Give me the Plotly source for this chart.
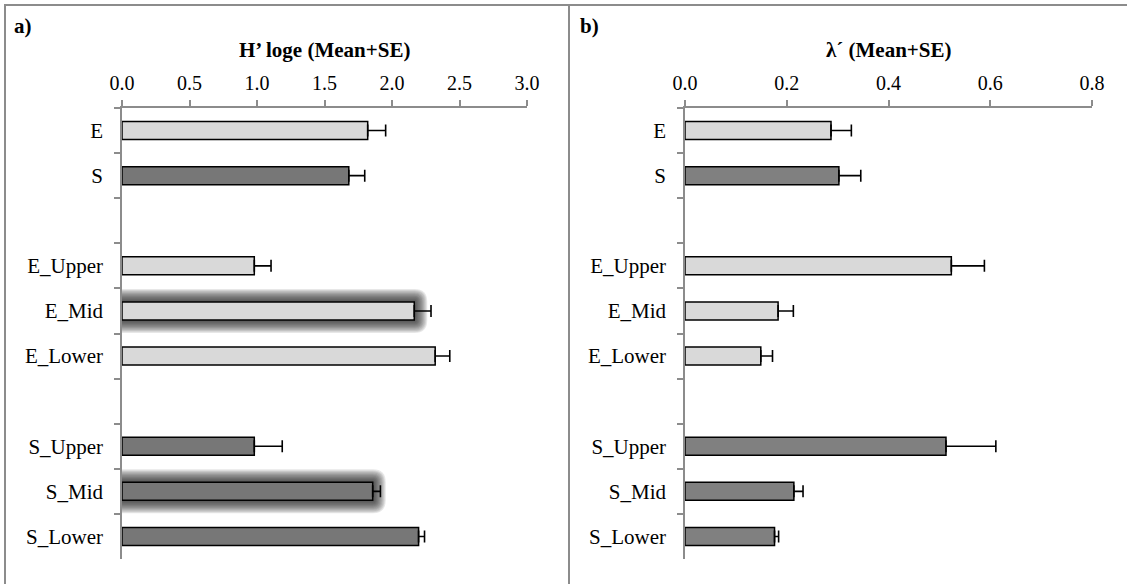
import plotly.graph_objects as go

# Row order of the horizontal bar charts (blank rows separate the groups)
categories = ["E", "S", " ", "E_Upper", "E_Mid", "E_Lower", "  ", "S_Upper", "S_Mid", "S_Lower"]

light_groups = ["E", "E_Upper", "E_Mid", "E_Lower"]
dark_groups = ["S", "S_Upper", "S_Mid", "S_Lower"]

# Shannon diversity H' (loge), mean and standard error
h_light_mean = [1.82, 0.98, 2.165, 2.32]
h_light_se = [0.133, 0.124, 0.124, 0.108]
h_dark_mean = [1.68, 0.98, 1.857, 2.197]
h_dark_se = [0.118, 0.207, 0.057, 0.044]

# Simpson's index lambda', mean and standard error
l_light_mean = [0.287, 0.5235, 0.183, 0.149]
l_light_se = [0.040, 0.065, 0.030, 0.023]
l_dark_mean = [0.3025, 0.513, 0.214, 0.176]
l_dark_se = [0.043, 0.098, 0.018, 0.008]

# Rows that are emphasised with a soft halo in panel a)
highlight_rows = ["E_Mid", "S_Mid"]

W, H = 1127, 584
FONT = "Liberation Serif, Times New Roman, Times, serif"
LIGHT = "#D9D9D9"
DARK_A = "#777777"
DARK_B = "#808080"
AXIS_GREY = "#8C8C8C"


def px_x(p):
    return p / W


def px_y(p):
    return 1 - p / H


fig = go.Figure()


def add_bars(xaxis, yaxis, names, means, ses, color):
    fig.add_trace(go.Bar(
        x=means, y=names, orientation="h",
        xaxis=xaxis, yaxis=yaxis,
        width=0.4,
        marker=dict(color=color, line=dict(color="black", width=1.5)),
        error_x=dict(type="data", symmetric=False, array=ses,
                     arrayminus=[0] * len(ses),
                     color="black", thickness=1.6, width=6),
        showlegend=False, hoverinfo="x+y",
    ))


add_bars("x", "y", light_groups, h_light_mean, h_light_se, LIGHT)
add_bars("x", "y", dark_groups, h_dark_mean, h_dark_se, DARK_A)
add_bars("x2", "y2", light_groups, l_light_mean, l_light_se, LIGHT)
add_bars("x2", "y2", dark_groups, l_dark_mean, l_dark_se, DARK_B)

# Halo behind highlighted bars: stacked translucent rounded rectangles
all_h = dict(zip(light_groups + dark_groups, h_light_mean + h_dark_mean))
shapes = []
half_h = 9
n_layers = 12
max_pad = 13
for row in highlight_rows:
    xv = all_h[row]
    yi = categories.index(row)
    for k in range(n_layers):
        p = max_pad * (k + 1) / n_layers
        top = half_h + p
        path = (f"M -3000,{-top} L 0,{-top} Q {p},{-top} {p},{-half_h} "
                f"L {p},{half_h} Q {p},{top} 0,{top} L -3000,{top} Z")
        shapes.append(dict(
            type="path", xref="x", yref="y",
            xsizemode="pixel", ysizemode="pixel",
            xanchor=xv, yanchor=yi, path=path,
            fillcolor="#262626", opacity=0.11,
            line=dict(width=0), layer="below",
        ))

# Panel frames
for x0, x1 in [(5, 569), (569, 1140)]:
    shapes.append(dict(type="rect", xref="paper", yref="paper",
                       x0=px_x(x0), x1=px_x(x1), y0=px_y(600), y1=px_y(5),
                       line=dict(color=AXIS_GREY, width=2),
                       fillcolor="rgba(0,0,0,0)", layer="above"))

y_dom = [px_y(559), px_y(108)]

xaxis_common = dict(
    side="top", showline=True, linecolor=AXIS_GREY, linewidth=1.5,
    ticks="outside", ticklen=6, tickcolor=AXIS_GREY, tickwidth=1.5,
    showgrid=False, zeroline=False, tickformat=".1f",
    tickfont=dict(family=FONT, size=20, color="black"),
    ticklabelstandoff=2, fixedrange=True, automargin=False,
)
yaxis_common = dict(
    type="category", categoryorder="array", categoryarray=categories,
    range=[len(categories) - 0.5, -0.5],
    showline=True, linecolor=AXIS_GREY, linewidth=1.5,
    ticks="outside", ticklen=6, tickcolor=AXIS_GREY, tickwidth=1.5,
    tickson="boundaries", showgrid=False, zeroline=False,
    tickfont=dict(family=FONT, size=21, color="black"),
    ticklabelstandoff=13, domain=y_dom, fixedrange=True, automargin=False,
)

fig.update_layout(
    width=W, height=H,
    margin=dict(l=0, r=0, t=0, b=0, autoexpand=False),
    paper_bgcolor="white", plot_bgcolor="white",
    font=dict(family=FONT, color="black"),
    barmode="overlay",
    xaxis=dict(xaxis_common, domain=[px_x(122), px_x(527)], range=[0, 3],
               dtick=0.5, anchor="y"),
    yaxis=dict(yaxis_common, anchor="x"),
    xaxis2=dict(xaxis_common, domain=[px_x(685), px_x(1092)], range=[0, 0.8],
                dtick=0.2, anchor="y2"),
    yaxis2=dict(yaxis_common, anchor="x2"),
    shapes=shapes,
    annotations=[
        dict(text="<b>a)</b>", xref="paper", yref="paper",
             x=px_x(12), y=px_y(26), xanchor="left", yanchor="middle",
             showarrow=False, font=dict(family=FONT, size=21, color="black")),
        dict(text="<b>b)</b>", xref="paper", yref="paper",
             x=px_x(578), y=px_y(26), xanchor="left", yanchor="middle",
             showarrow=False, font=dict(family=FONT, size=21, color="black")),
        dict(text="<b>H’ loge (Mean+SE)</b>", xref="paper", yref="paper",
             x=px_x(324.5), y=px_y(50), xanchor="center", yanchor="middle",
             showarrow=False, font=dict(family=FONT, size=21, color="black")),
        dict(text="<b>λ´ (Mean+SE)</b>", xref="paper", yref="paper",
             x=px_x(888.5), y=px_y(50), xanchor="center", yanchor="middle",
             showarrow=False, font=dict(family=FONT, size=21, color="black")),
    ],
)

fig.write_html("out.html")
